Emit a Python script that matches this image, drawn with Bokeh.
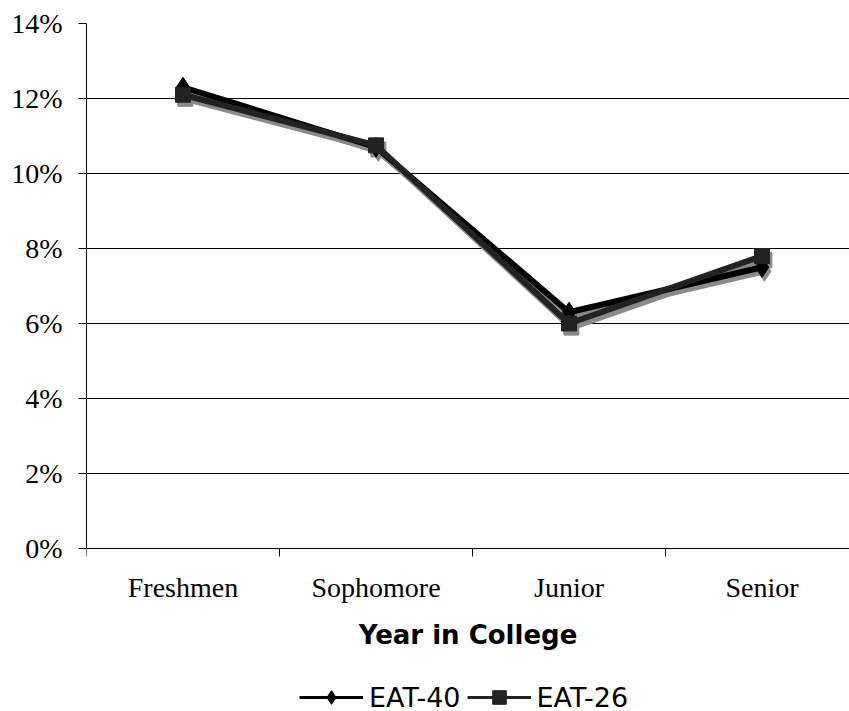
from bokeh.plotting import figure
from bokeh.models import (Range1d, FixedTicker, NumeralTickFormatter, Legend, LegendItem)
from bokeh.embed import file_html
from bokeh.resources import INLINE

# Share of students flagged by each screening instrument, by year in college
years = ["Freshmen", "Sophomore", "Junior", "Senior"]
eat40 = [0.123, 0.107, 0.063, 0.075]
eat26 = [0.121, 0.1075, 0.060, 0.078]
y_ticks = [0.0, 0.02, 0.04, 0.06, 0.08, 0.10, 0.12, 0.14]

xs = [i + 0.5 for i in range(len(years))]

# small drop-shadow offsets (data units)
sdx, sdy = 0.012, -0.0011

# the frame runs to the bottom of the page; the value axis spans 0-14% only,
# leaving room underneath for the category axis and the legend
p = figure(width=849, height=711, output_backend="svg", toolbar_location=None,
           x_range=Range1d(0, 3.953), y_range=Range1d(-0.04347, 0.14),
           min_border_left=86, min_border_right=0, min_border_top=23,
           min_border_bottom=0, background_fill_color="white",
           border_fill_color="white")
p.outline_line_color = None

serif = "Liberation Serif"

# y axis
p.yaxis.ticker = FixedTicker(ticks=y_ticks)
p.yaxis.bounds = (0, 0.14)
p.yaxis.formatter = NumeralTickFormatter(format="0%")
p.yaxis.major_label_text_font = serif
p.yaxis.major_label_text_font_size = "28px"
p.yaxis.major_label_text_color = "black"
p.yaxis.major_tick_in = 0
p.yaxis.major_tick_out = 8
p.yaxis.minor_tick_line_color = None
p.yaxis.axis_line_color = "black"
p.yaxis.major_tick_line_color = "black"
p.yaxis.major_label_standoff = 16

# x axis sits at 0%: labels centred on categories, tick marks between them
p.xaxis.fixed_location = 0
p.xaxis.ticker = FixedTicker(ticks=xs, minor_ticks=[0, 1, 2, 3])
p.xaxis.major_label_overrides = {x: y for x, y in zip(xs, years)}
p.xaxis.major_label_text_font = serif
p.xaxis.major_label_text_font_size = "28px"
p.xaxis.major_label_text_color = "black"
p.xaxis.major_tick_in = 0
p.xaxis.major_tick_out = 0
p.xaxis.minor_tick_in = 0
p.xaxis.minor_tick_out = 8
p.xaxis.minor_tick_line_color = "black"
p.xaxis.axis_line_color = "black"
p.xaxis.major_label_standoff = 16
p.xaxis.axis_label = "Year in College"
p.xaxis.axis_label_text_font = "DejaVu Sans"
p.xaxis.axis_label_text_font_style = "bold"
p.xaxis.axis_label_text_font_size = "26px"
p.xaxis.axis_label_text_color = "black"
p.xaxis.axis_label_standoff = 13

p.xgrid.grid_line_color = None
p.ygrid.ticker = FixedTicker(ticks=y_ticks)
p.ygrid.grid_line_color = "black"
p.ygrid.grid_line_width = 1

# drop shadows
for vals in (eat40, eat26):
    p.line([x + sdx for x in xs], [v + sdy for v in vals],
           line_color="#8a8a8a", line_width=6, line_join="round")
p.scatter([x + sdx for x in xs], [v + sdy for v in eat26], marker="square",
          size=15, fill_color="#8a8a8a", line_color="#8a8a8a")
p.scatter([x + sdx for x in xs], [v + sdy for v in eat40], marker="diamond",
          size=20, fill_color="#8a8a8a", line_color="#8a8a8a")

# thinner copies used as legend swatches (hidden beneath the main series)
kl40 = p.line(xs, eat40, line_color="black", line_width=3)
km40 = p.scatter(xs, eat40, marker="diamond", size=16, fill_color="black", line_color="black")
kl26 = p.line(xs, eat26, line_color="#222222", line_width=3)
km26 = p.scatter(xs, eat26, marker="square", size=12, fill_color="#222222", line_color="#222222")

# main series
p.line(xs, eat40, line_color="black", line_width=6, line_join="round")
p.scatter(xs, eat40, marker="diamond", size=20, fill_color="black", line_color="black")
p.line(xs, eat26, line_color="#222222", line_width=6, line_join="round")
p.scatter(xs, eat26, marker="square", size=15, fill_color="#222222", line_color="#222222")

legend = Legend(items=[LegendItem(label="EAT-40", renderers=[kl40, km40]),
                       LegendItem(label="EAT-26", renderers=[kl26, km26])],
                orientation="horizontal", location=(213, -3),
                label_text_font="DejaVu Sans", label_text_font_size="27px",
                label_text_color="black", glyph_width=64, glyph_height=34,
                label_standoff=6, spacing=6, padding=0, margin=0,
                border_line_color=None, background_fill_alpha=0)
p.add_layout(legend)

open("out.html", "w").write(file_html(p, INLINE))
